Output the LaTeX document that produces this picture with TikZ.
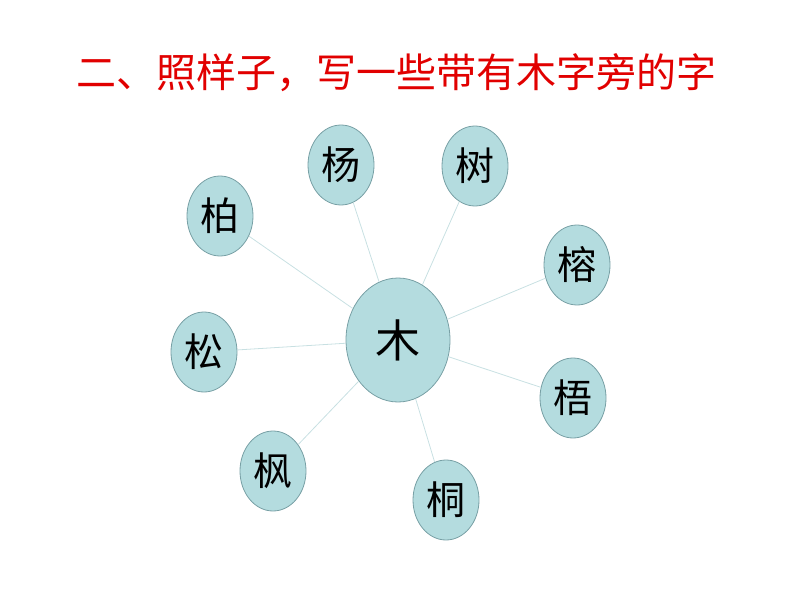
\documentclass[tikz,border=0pt]{standalone}
\usepackage{fontspec}
\setmainfont{Noto Sans CJK SC}
\usetikzlibrary{shapes.geometric}
\definecolor{leaffill}{RGB}{180,220,223}
\definecolor{leafedge}{RGB}{120,160,165}
\definecolor{spoke}{RGB}{200,224,226}
\definecolor{titlered}{RGB}{225,0,0}
\tikzset{
  leaf/.style={ellipse, draw=leafedge, fill=leaffill, line width=0.8pt, inner sep=0pt,
    minimum width=66pt, minimum height=80pt, font=\fontsize{39}{42}\selectfont},
  hub/.style={leaf, minimum width=104pt, minimum height=124pt, font=\fontsize{45}{48}\selectfont},
  spokeline/.style={draw=spoke, line width=0.8pt}
}
\begin{document}
\begin{tikzpicture}[x=1pt, y=-1pt]
    \useasboundingbox (0,0) rectangle (794,596);
    \node[text=titlered, font=\fontsize{40}{46}\selectfont] (title) at (396,73) {二、照样子，写一些带有木字旁的字};

    \node[hub] (mu) at (398,340) {木};
    \node[leaf] (yang) at (341,165) {杨};
    \node[leaf] (shu) at (475,166) {树};
    \node[leaf] (bai) at (220,216) {柏};
    \node[leaf] (rong) at (577,265) {榕};
    \node[leaf] (song) at (204,352) {松};
    \node[leaf] (wu) at (573,398) {梧};
    \node[leaf] (feng) at (273,471) {枫};
    \node[leaf] (tong) at (446,500) {桐};

    \foreach \t in {yang, shu, bai, rong, song, wu, feng, tong}
      \draw[spokeline] (mu) -- (\t);
  \end{tikzpicture}
\end{document}
